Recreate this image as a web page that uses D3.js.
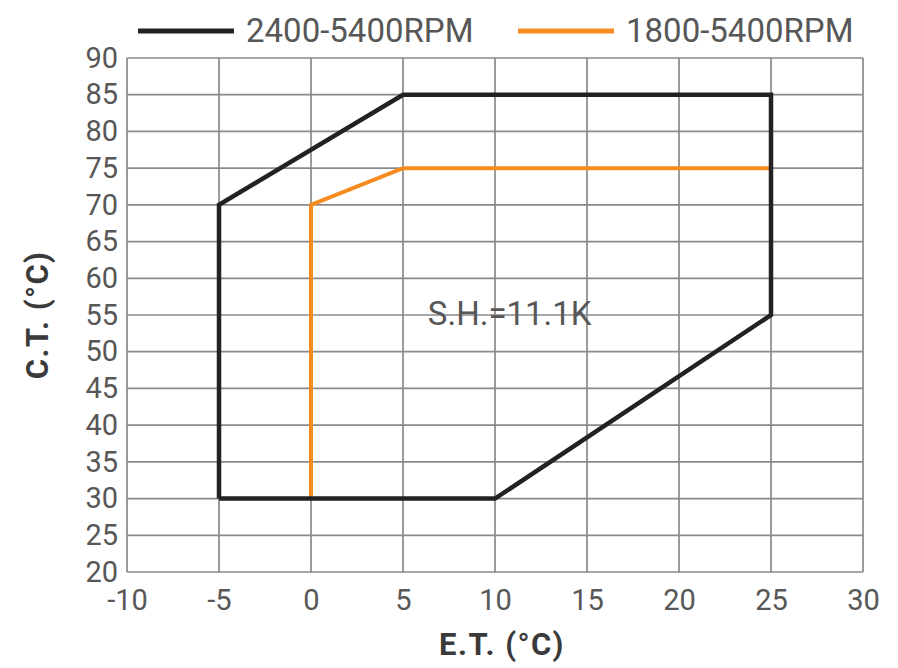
<!DOCTYPE html>
<html><head><meta charset="utf-8">
<script src="https://cdn.jsdelivr.net/npm/d3@7"></script>
<style>
html,body{margin:0;padding:0;background:#fff;}
svg text{font-family:Roboto,"Open Sans",sans-serif;}
</style></head>
<body>
<svg id="chart" width="898" height="668"></svg>
<script>
// ---- data ----
const seriesNames = ["2400-5400RPM", "1800-5400RPM"];
const seriesColors = ["#222222", "#f68b1f"];
const blackET = [-5, -5, 5, 25, 25, 10, -5];
const blackCT = [30, 70, 85, 85, 55, 30, 30];
const orangeET = [0, 0, 5, 25];
const orangeCT = [30, 70, 75, 75];
const xTicks = [-10, -5, 0, 5, 10, 15, 20, 25, 30];
const yTicks = [20, 25, 30, 35, 40, 45, 50, 55, 60, 65, 70, 75, 80, 85, 90];
const annotation = "S.H.=11.1K";
const annotationPos = [10.8, 53.7];
const xTitle = "E.T. (°C)";
const yTitle = "C.T. (°C)";

const svg = d3.select("#chart");
const L = 127, R = 863, T = 58, B = 572;
const x = d3.scaleLinear().domain([-10, 30]).range([L, R]);
const y = d3.scaleLinear().domain([20, 90]).range([B, T]);

const gridColor = "#8a8a8a";
const textColor = "#575757";
// grid
svg.append("g").selectAll("line").data(xTicks).join("line")
  .attr("x1", d => x(d)).attr("x2", d => x(d)).attr("y1", T).attr("y2", B)
  .attr("stroke", gridColor).attr("stroke-width", 1.7);
svg.append("g").selectAll("line").data(yTicks).join("line")
  .attr("y1", d => y(d)).attr("y2", d => y(d)).attr("x1", L).attr("x2", R)
  .attr("stroke", gridColor).attr("stroke-width", 1.7);

// axes labels
const fmt = d => String(d);
const xAxis = d3.axisBottom(x).tickValues(xTicks).tickFormat(fmt).tickSize(0).tickPadding(17);
const gx = svg.append("g").attr("transform", `translate(0,${B})`).call(xAxis);
gx.select(".domain").remove();
gx.selectAll("text").attr("font-size", 29).attr("fill", textColor)
  .style("font-family", "Roboto, sans-serif");

const yAxis = d3.axisLeft(y).tickValues(yTicks).tickFormat(fmt).tickSize(0).tickPadding(9);
const gy = svg.append("g").attr("transform", `translate(${L},0)`).call(yAxis);
gy.select(".domain").remove();
gy.selectAll("text").attr("font-size", 29).attr("fill", textColor)
  .style("font-family", "Roboto, sans-serif");

// series
const line = d3.line().x(d => x(d[0])).y(d => y(d[1]));
svg.append("path").datum(orangeET.map((v, i) => [v, orangeCT[i]]))
  .attr("d", line).attr("fill", "none").attr("stroke", seriesColors[1])
  .attr("stroke-width", 4).attr("stroke-linejoin", "miter");
svg.append("path").datum(blackET.map((v, i) => [v, blackCT[i]]))
  .attr("d", line).attr("fill", "none").attr("stroke", seriesColors[0])
  .attr("stroke-width", 4.5).attr("stroke-linejoin", "miter");

// annotation
svg.append("text").attr("x", x(annotationPos[0])).attr("y", y(annotationPos[1]))
  .attr("text-anchor", "middle").attr("font-size", 33).attr("fill", textColor)
  .text(annotation);

// axis titles
svg.append("text").attr("x", 502).attr("y", 655)
  .attr("text-anchor", "middle").attr("font-size", 31).attr("font-weight", "bold")
  .attr("letter-spacing", 1.5)
  .attr("fill", "#3a3a3a").text(xTitle);
svg.append("text").attr("transform", `translate(48,${(T + B) / 2}) rotate(-90)`)
  .attr("text-anchor", "middle").attr("font-size", 31).attr("font-weight", "bold")
  .attr("letter-spacing", 1.5)
  .attr("fill", "#3a3a3a").text(yTitle);

// legend
const legendX = [138, 518];
const lg = svg.append("g").selectAll("g").data(seriesNames).join("g")
  .attr("transform", (d, i) => `translate(${legendX[i]},31)`);
lg.append("line").attr("x1", 0).attr("x2", 96).attr("y1", 0).attr("y2", 0)
  .attr("stroke", (d, i) => seriesColors[i]).attr("stroke-width", 5);
lg.append("text").attr("x", 108).attr("y", 11).attr("font-size", 33)
  .attr("fill", textColor).text(d => d);
</script>
</body></html>
